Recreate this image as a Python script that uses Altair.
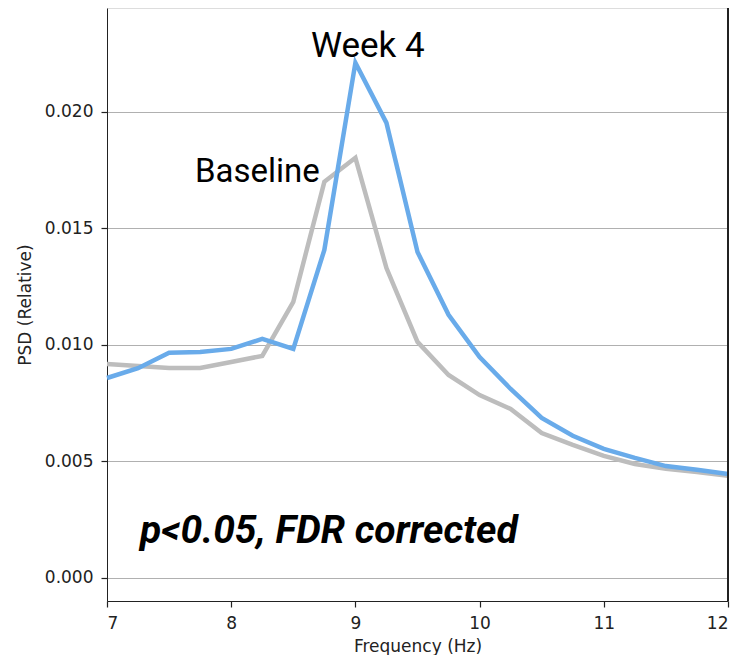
import altair as alt
import pandas as pd

freqs = [7.0, 7.25, 7.5, 7.75, 8.0, 8.25, 8.5, 8.75, 9.0, 9.25, 9.5, 9.75,
         10.0, 10.25, 10.5, 10.75, 11.0, 11.25, 11.5, 11.75, 12.0]
week4 = [0.00858, 0.00900, 0.00966, 0.00970, 0.00983, 0.01026, 0.00983, 0.01408,
         0.02211, 0.01953, 0.01399, 0.01129, 0.00948, 0.00811, 0.00687, 0.00610,
         0.00554, 0.00515, 0.00480, 0.00464, 0.00446]
baseline = [0.00918, 0.00910, 0.00901, 0.00901, 0.00927, 0.00953, 0.01185, 0.01700,
            0.01803, 0.01330, 0.01013, 0.00871, 0.00785, 0.00725, 0.00622, 0.00571,
            0.00524, 0.00489, 0.00468, 0.00455, 0.00438]
y_ticks = [0.0, 0.005, 0.010, 0.015, 0.020]
x_ticks = [7, 8, 9, 10, 11, 12]

labels = ["Week 4", "Baseline", "p<0.05, FDR corrected"]
label_x = [9.1, 8.21, 7.265]
label_y = [0.02236, 0.0170, 0.00150]

df_b = pd.DataFrame({"f": freqs, "psd": baseline})
df_w = pd.DataFrame({"f": freqs, "psd": week4})

xs = alt.Scale(domain=[7, 12], nice=False, zero=False)
ys = alt.Scale(domain=[-0.00099, 0.02446], nice=False, zero=False)

x_axis = alt.Axis(values=x_ticks, title="Frequency (Hz)", grid=False, format="d",
                  labelFont="DejaVu Sans", labelFontSize=17, labelColor="#222",
                  titleFont="DejaVu Sans", titleFontSize=17, titleFontWeight="normal",
                  titleColor="#222", titlePadding=7, ticks=True, tickSize=6,
                  tickWidth=1.2, tickColor="#222",
                  domainColor="#222", labelPadding=8)
y_axis = alt.Axis(values=y_ticks, title="PSD (Relative)", format=".3f", grid=True,
                  gridColor="#b0b0b0", gridWidth=1.2,
                  labelFont="DejaVu Sans", labelFontSize=17, labelColor="#222",
                  titleFont="DejaVu Sans", titleFontSize=17, titleFontWeight="normal",
                  titleColor="#222", titlePadding=10, ticks=True, tickSize=6,
                  tickWidth=1.2, tickColor="#222",
                  domainColor="#222", labelPadding=8)

gray = alt.Chart(df_b).mark_line(color="#bdbdbd", strokeWidth=4.5).encode(
    x=alt.X("f:Q", scale=xs, axis=x_axis),
    y=alt.Y("psd:Q", scale=ys, axis=y_axis),
)
blue = alt.Chart(df_w).mark_line(color="#69abea", strokeWidth=4.5).encode(
    x=alt.X("f:Q", scale=xs),
    y=alt.Y("psd:Q", scale=ys),
)
right_spine = alt.Chart(df_w).mark_rule(color="#222", strokeWidth=1.2).encode(
    x=alt.datum(12, scale=xs)
)

lab_df = pd.DataFrame({"t": labels, "x": label_x, "y": label_y})
week_lab = alt.Chart(lab_df.iloc[[0]]).mark_text(
    font="Roboto", fontSize=35, align="center", baseline="alphabetic", color="black"
).encode(x=alt.X("x:Q", scale=xs), y=alt.Y("y:Q", scale=ys), text="t:N")
base_lab = alt.Chart(lab_df.iloc[[1]]).mark_text(
    font="Roboto", fontSize=33, align="center", baseline="alphabetic", color="black"
).encode(x=alt.X("x:Q", scale=xs), y=alt.Y("y:Q", scale=ys), text="t:N")
p_lab = alt.Chart(lab_df.iloc[[2]]).mark_text(
    font="Roboto", fontSize=39, fontWeight="bold", fontStyle="italic",
    align="left", baseline="alphabetic", color="black"
).encode(x=alt.X("x:Q", scale=xs), y=alt.Y("y:Q", scale=ys), text="t:N")

chart = alt.layer(gray, blue, right_spine, week_lab, base_lab, p_lab).properties(
    width=621, height=593,
    autosize=alt.AutoSizeParams(type="none"),
    padding={"left": 99, "top": 0, "right": 4, "bottom": 54},
).configure_view(stroke=None).configure(background="white")

chart.save("out.html", embed_options={"renderer": "svg", "actions": False})
